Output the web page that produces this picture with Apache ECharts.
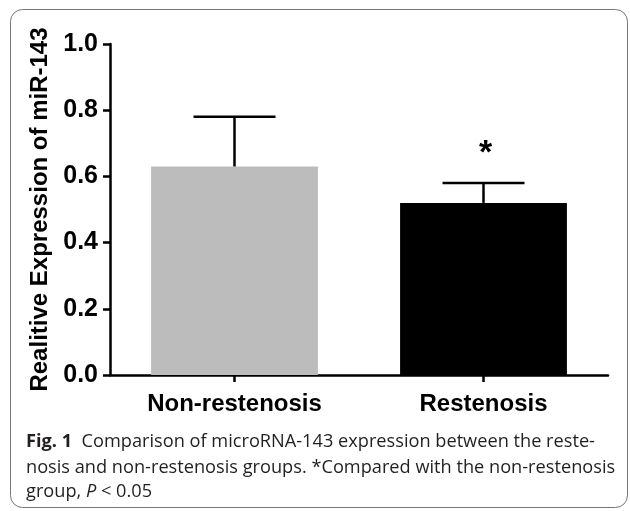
<!DOCTYPE html>
<html>
<head>
<meta charset="utf-8">
<script src="https://cdn.jsdelivr.net/npm/echarts@6/dist/echarts.min.js"></script>
<style>
html,body{margin:0;padding:0;background:#fff;}
#chart{width:630px;height:511px;}
</style>
</head>
<body>
<div id="chart"></div>
<script>
// ---- data ----
var categories = ['Non-restenosis', 'Restenosis'];
var means = [0.63, 0.52];
var errors = [0.15, 0.06];
var sigMarks = ['', '*'];
var barColors = ['#bbbcbb', '#000000'];
var yTicks = [0, 0.2, 0.4, 0.6, 0.8, 1.0];
var yTitle = 'Realitive Expression of miR-143';
var captionLines = [
  ['Fig. 1', '  Comparison of microRNA-143 expression between the reste-'],
  ['', 'nosis and non-restenosis groups. *Compared with the non-restenosis'],
  ['', 'group, ']
];

var chart = echarts.init(document.getElementById('chart'), null, {renderer: 'canvas'});

var errData = categories.map(function (c, i) { return [i, means[i], means[i] + errors[i], sigMarks[i]]; });

var capFont = '"Open Sans", "Noto Sans", sans-serif';
var capSize = 18.2;
var capColor = '#231f20';
var boldFont = '"Liberation Sans", Arial, sans-serif';

var option = {
  animation: false,
  backgroundColor: '#fff',
  grid: {left: 110, right: 22, top: 44, bottom: 136, containLabel: false},
  xAxis: {
    type: 'category',
    data: categories,
    axisLine: {lineStyle: {color: '#000', width: 2.5}},
    axisTick: {show: true, alignWithLabel: true, length: 7, lineStyle: {color: '#000', width: 2.5}},
    axisLabel: {color: '#000', fontFamily: boldFont, fontWeight: 'bold', fontSize: 24, margin: 17}
  },
  yAxis: {
    type: 'value',
    min: yTicks[0], max: yTicks[yTicks.length - 1], interval: 0.2,
    name: yTitle,
    nameLocation: 'middle',
    nameGap: 55,
    nameRotate: 90,
    nameTextStyle: {color: '#000', fontFamily: boldFont, fontWeight: 'bold', fontSize: 24},
    axisLine: {show: true, lineStyle: {color: '#000', width: 2.5}},
    axisTick: {show: true, length: 7, lineStyle: {color: '#000', width: 2.5}},
    splitLine: {show: false},
    axisLabel: {color: '#000', fontFamily: boldFont, fontWeight: 'bold', fontSize: 25, margin: 12,
      formatter: function (v) { return v.toFixed(1); }}
  },
  series: [
    {
      type: 'bar',
      barWidth: '67%',
      data: means.map(function (v, i) { return {value: v, itemStyle: {color: barColors[i]}}; }),
      z: 2
    },
    {
      type: 'custom',
      z: 3,
      data: errData,
      renderItem: function (params, api) {
        var x = api.value(0);
        var p0 = api.coord([x, api.value(1)]);
        var p1 = api.coord([x, api.value(2)]);
        var half = 41;
        var children = [
          {type: 'line', shape: {x1: p0[0], y1: p0[1], x2: p1[0], y2: p1[1]}, style: {stroke: '#000', lineWidth: 2.5}},
          {type: 'line', shape: {x1: p1[0] - half, y1: p1[1], x2: p1[0] + half, y2: p1[1]}, style: {stroke: '#000', lineWidth: 2.5}}
        ];
        var mark = api.value(3);
        if (mark) {
          children.push({type: 'text', style: {text: mark, x: p1[0] + 2, y: p1[1] - 29, align: 'center', verticalAlign: 'middle',
            fill: '#000', font: 'bold 34px ' + boldFont}});
        }
        return {type: 'group', children: children};
      }
    }
  ],
  graphic: [
    {type: 'rect', shape: {x: 10.5, y: 9.5, width: 617, height: 498, r: 12}, style: {fill: 'none', stroke: '#777', lineWidth: 1}, z: 0},
    {type: 'text', x: 26, y: 442, style: {verticalAlign: 'middle', rich: {b: {fontFamily: capFont, fontWeight: 'bold', fontSize: capSize, fill: capColor}, n: {fontFamily: capFont, fontSize: capSize, fill: capColor}}, text: '{b|' + captionLines[0][0] + '}{n|' + captionLines[0][1] + '}'}},
    {type: 'text', x: 26, y: 468, style: {verticalAlign: 'middle', font: capSize + 'px ' + capFont, fill: capColor, text: captionLines[1][1]}},
    {type: 'text', x: 26, y: 492, style: {verticalAlign: 'middle', rich: {n: {fontFamily: capFont, fontSize: capSize, fill: capColor}, i: {fontFamily: capFont, fontStyle: 'italic', fontSize: capSize, fill: capColor}}, text: '{n|' + captionLines[2][1] + '}{i|P}{n| < 0.05}'}}
  ]
};
chart.setOption(option);
</script>
</body>
</html>
